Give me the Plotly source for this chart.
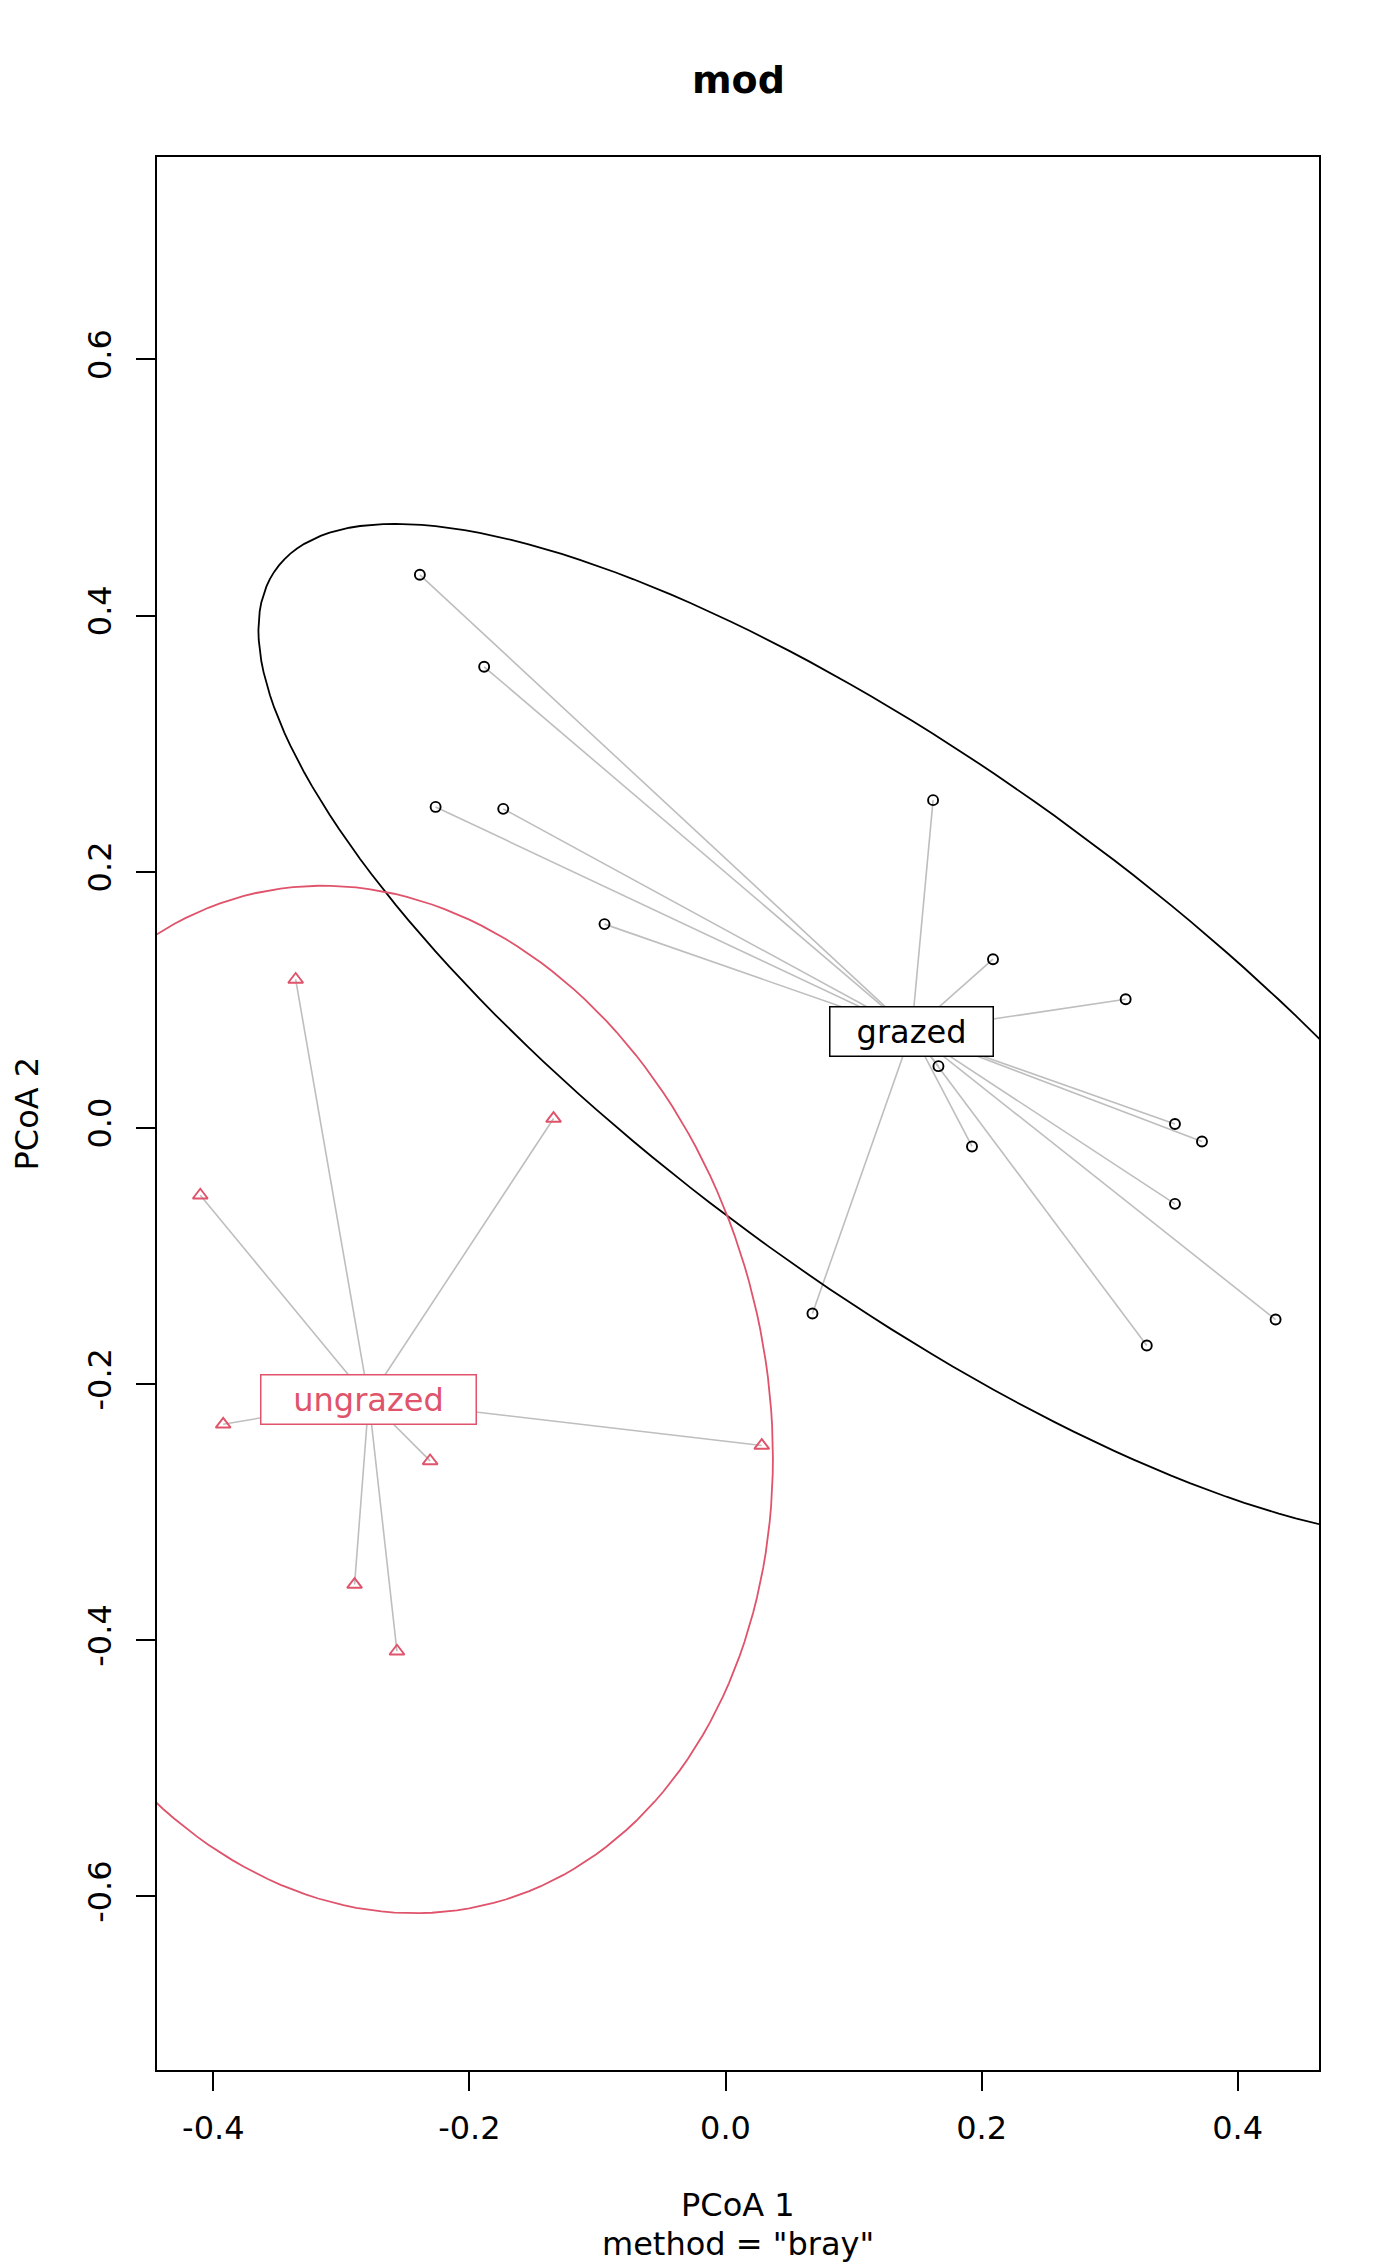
import numpy as np
import plotly.graph_objects as go

# site scores on PCoA 1 / PCoA 2
grazed_x = [-0.2387, -0.1885, -0.2264, -0.1736, -0.0945, 0.1621, 0.2089, 0.3125,
            0.1663, 0.3510, 0.3721, 0.1925, 0.3510, 0.0679, 0.3290, 0.4296]
grazed_y = [0.4318, 0.3600, 0.2506, 0.2491, 0.1591, 0.2559, 0.1317, 0.1005,
            0.0482, 0.0031, -0.0106, -0.0145, -0.0593, -0.1449, -0.1699, -0.1496]
ungrazed_x = [-0.3357, -0.1343, -0.4102, -0.3923, -0.2307, 0.0283, -0.2897, -0.2566]
ungrazed_y = [0.1159, 0.0073, -0.0526, -0.2314, -0.2600, -0.2480, -0.3565, -0.4086]

# group centroids (spatial medians)
groups = ["grazed", "ungrazed"]
centroid_x = [0.1454, -0.2786]
centroid_y = [0.0755, -0.2120]

xticks = [-0.4, -0.2, 0.0, 0.2, 0.4]
yticks = [-0.6, -0.4, -0.2, 0.0, 0.2, 0.4, 0.6]

cols = ["#000000", "#DF536B"]
seg_col = "#BEBEBE"
conf = 0.90
FONT = "DejaVu Sans"

sites = [(grazed_x, grazed_y), (ungrazed_x, ungrazed_y)]
symbols = ["circle-open", "triangle-up-open"]
sizes = [10, 13]


def cov_ellipse(xs, ys, cx, cy, conf, npoints=200):
    # same as vegan's veganCovEllipse with cov.wt around the centroid
    d = np.column_stack([np.asarray(xs) - cx, np.asarray(ys) - cy])
    cov = d.T @ d / (len(xs) - 1)
    scale = np.sqrt(-2 * np.log(1 - conf))  # sqrt(qchisq(conf, 2))
    theta = np.linspace(0, 2 * np.pi, npoints + 1)
    circle = np.column_stack([np.cos(theta), np.sin(theta)])
    xy = np.array([cx, cy]) + scale * circle @ np.linalg.cholesky(cov).T
    return xy[:, 0], xy[:, 1]


fig = go.Figure()

# segments from centroid to each site
for i, (xs, ys) in enumerate(sites):
    sx, sy = [], []
    for x, y in zip(xs, ys):
        sx += [centroid_x[i], x, None]
        sy += [centroid_y[i], y, None]
    fig.add_trace(go.Scatter(x=sx, y=sy, mode="lines",
                             line=dict(color=seg_col, width=1.6),
                             hoverinfo="skip", showlegend=False))

# confidence ellipses
for i, (xs, ys) in enumerate(sites):
    ex, ey = cov_ellipse(xs, ys, centroid_x[i], centroid_y[i], conf)
    fig.add_trace(go.Scatter(x=ex, y=ey, mode="lines",
                             line=dict(color=cols[i], width=1.8),
                             hoverinfo="skip", showlegend=False))

# site points
for i, (xs, ys) in enumerate(sites):
    fig.add_trace(go.Scatter(x=xs, y=ys, mode="markers", name=groups[i],
                             marker=dict(symbol=symbols[i], size=sizes[i], color=cols[i],
                                         line=dict(width=1.9, color=cols[i])),
                             showlegend=False))

# centroid labels
label_w = [158, 210]
for i, g in enumerate(groups):
    fig.add_annotation(x=centroid_x[i], y=centroid_y[i], text=g, showarrow=False,
                       xanchor="center", yanchor="middle",
                       font=dict(family=FONT, size=32, color=cols[i]),
                       bgcolor="white", bordercolor=cols[i], borderwidth=1.5,
                       borderpad=2, width=label_w[i], height=44)

axis_style = dict(showgrid=False, zeroline=False, showline=True, mirror=True,
                  linecolor="black", linewidth=1.8, ticks="outside", ticklen=19,
                  tickwidth=1.5, tickcolor="black",
                  tickfont=dict(family=FONT, size=32, color="black"))

# the page adds an 8px body margin, so the figure is 8px smaller
W, H = 1392, 2258
ml, mr, mt, mb = 149, 81, 149, 196
pw, ph = W - ml - mr, H - mt - mb

fig.update_layout(
    width=W, height=H,
    margin=dict(l=ml, r=mr, t=mt, b=mb),
    plot_bgcolor="white", paper_bgcolor="white",
    xaxis=dict(range=[-0.4440, 0.4635], tickvals=xticks, ticklabelstandoff=10,
               ticktext=[f"{v:.1f}" for v in xticks], **axis_style),
    yaxis=dict(range=[-0.7355, 0.7580], tickvals=yticks, ticklabelstandoff=12,
               ticktext=[f"{v:.1f}" for v in yticks], tickangle=-90, **axis_style),
)

# title and axis titles, offsets in pixels from the plot box
def txt(text, dx, dy, size, angle=0):
    fig.add_annotation(text=text, x=0.5 + dx / pw, y=0.5 + dy / ph, xref="paper", yref="paper",
                       xanchor="center", yanchor="middle", textangle=angle, showarrow=False,
                       font=dict(family=FONT, size=size, color="black"))

txt("<b>mod</b>", 0, ph / 2 + (157 - 80), 38)
txt("PCoA 1", 0, -ph / 2 - (2205 - 2070), 32)
txt('method = "bray"', 0, -ph / 2 - (2244 - 2070), 32)
txt("PCoA 2", -pw / 2 - (157 - 26), 0, 32, angle=-90)

fig.write_html("out.html")
